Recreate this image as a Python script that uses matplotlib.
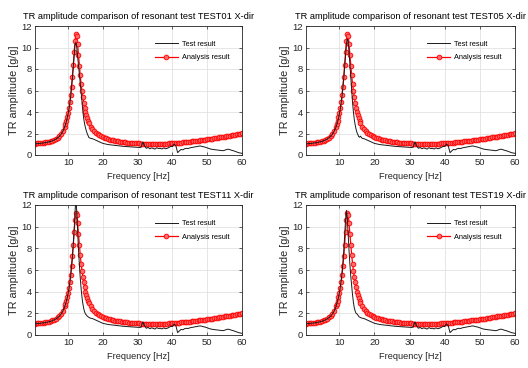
import numpy as np
import matplotlib
matplotlib.use("Agg")
import matplotlib.pyplot as plt

plt.rcParams['font.family'] = ['Liberation Sans', 'DejaVu Sans']

# frequency grid [Hz] (denser around the resonance)
freq_low = np.arange(0.5, 9.01, 0.5)
freq_peak = np.arange(9.25, 16.01, 0.25)
freq_high = np.arange(16.5, 60.01, 0.5)

# analysis result (same model for all tests)
ana_low = [1.06, 1.07, 1.08, 1.10, 1.12, 1.14, 1.17, 1.20, 1.24, 1.28, 1.34, 1.42,
           1.51, 1.62, 1.77, 1.97, 2.25, 2.65]
ana_peak = [2.90, 3.18, 3.50, 3.88, 4.35, 4.90, 5.55, 6.35, 7.25, 8.35, 9.55, 10.6,
            11.3, 11.1, 10.3, 9.3, 8.3, 7.4, 6.6, 5.95, 5.35, 4.85, 4.4, 4.0,
            3.68, 3.40, 3.17, 2.97]
ana_high = [2.65, 2.42, 2.23, 2.07, 1.94, 1.84, 1.75, 1.67,
            1.60, 1.54, 1.49, 1.44, 1.40, 1.36, 1.33, 1.30, 1.27, 1.25,
            1.22, 1.20, 1.18, 1.16, 1.14, 1.12, 1.11, 1.10, 1.09, 1.08,
            1.07, 1.06, 1.05, 1.04, 1.03, 1.02, 1.02, 1.01, 1.01, 1.00,
            1.01, 1.01, 1.02, 1.03, 1.04, 1.05, 1.06, 1.07, 1.08, 1.10,
            1.11, 1.12, 1.13, 1.15, 1.16, 1.18, 1.19, 1.21, 1.23, 1.24,
            1.26, 1.28, 1.30, 1.32, 1.34, 1.36, 1.38, 1.40, 1.43, 1.45,
            1.47, 1.50, 1.52, 1.55, 1.57, 1.60, 1.63, 1.65, 1.68, 1.71,
            1.74, 1.77, 1.80, 1.83, 1.86, 1.89, 1.92, 1.95, 1.98, 2.01]

# test result, low / high frequency parts (nearly identical between tests)
test_low = [1.04, 1.05, 1.06, 1.08, 1.10, 1.12, 1.15, 1.18, 1.22, 1.26, 1.32, 1.39,
            1.48, 1.59, 1.73, 1.93, 2.20, 2.58]
test_high = [1.55, 1.52, 1.45, 1.38, 1.30, 1.22, 1.15, 1.08,
             1.04, 1.00, 0.97, 0.95, 0.92, 0.90, 0.88, 0.86, 0.84, 0.82,
             0.81, 0.80, 0.79, 0.78, 0.78, 0.77, 0.76, 0.75, 0.74, 0.73,
             0.70, 0.72, 1.22, 0.85, 0.62, 0.70, 0.58, 0.66, 0.60, 0.55,
             0.68, 0.60, 0.62, 0.56, 0.66, 0.58, 0.62, 0.70, 0.80, 0.78,
             1.02, 0.85, 0.22, 0.38, 0.52, 0.48, 0.58, 0.62, 0.60, 0.66,
             0.70, 0.72, 0.76, 0.78, 0.82, 0.84, 0.80, 0.76, 0.72, 0.66,
             0.60, 0.55, 0.52, 0.50, 0.48, 0.46, 0.44, 0.42, 0.40, 0.44,
             0.50, 0.54, 0.50, 0.44, 0.40, 0.34, 0.28, 0.22, 0.18, 0.15]

# test result around the resonance, per test
test01_peak = [2.82, 3.10, 3.42, 3.80, 4.26, 4.80, 5.45, 6.25, 7.15, 8.20, 9.35, 10.2,
               10.5, 10.0, 9.2, 8.3, 7.5, 6.7, 5.8, 4.9, 4.1, 3.4, 2.9, 2.55,
               2.25, 2.0, 1.8, 1.62]
test05_peak = [2.82, 3.10, 3.42, 3.80, 4.26, 4.80, 5.45, 6.25, 7.15, 8.20, 9.3, 10.3,
               10.8, 10.6, 9.6, 8.4, 7.2, 6.0, 4.9, 4.0, 3.3, 2.8, 2.4, 2.1,
               1.9, 1.72, 1.65, 1.75]
test11_peak = [2.82, 3.10, 3.42, 3.80, 4.26, 4.80, 5.45, 6.25, 7.15, 8.30, 9.7, 11.3,
               12.6, 11.4, 9.6, 7.9, 6.5, 5.3, 4.3, 3.5, 2.9, 2.45, 2.15, 1.95,
               1.85, 1.75, 1.68, 1.62]
test19_peak = [2.86, 3.15, 3.48, 3.88, 4.38, 4.98, 5.70, 6.60, 7.70, 9.1, 10.6, 11.5,
               10.8, 9.3, 7.8, 6.5, 5.4, 4.5, 3.7, 3.0, 2.5, 2.2, 2.0, 1.95,
               1.85, 1.72, 1.65, 1.62]

test_names = ["TEST01", "TEST05", "TEST11", "TEST19"]
test_peaks = [test01_peak, test05_peak, test11_peak, test19_peak]

freq = np.concatenate([freq_low, freq_peak, freq_high])
analysis = np.concatenate([ana_low, ana_peak, ana_high])

W, H = 528, 368
fig = plt.figure(figsize=(W / 100, H / 100), dpi=100)

# axes boxes in pixels: left, right, top, bottom
boxes = [(35, 242, 26, 155), (306, 515, 26, 155),
         (35, 242, 205, 335), (306, 515, 205, 335)]

for name, peak, (l, r, t, b) in zip(test_names, test_peaks, boxes):
    ax = fig.add_axes([l / W, 1 - b / H, (r - l) / W, (b - t) / H])
    test = np.concatenate([test_low, peak, test_high])

    ax.plot(freq, test, color="#1a1a1a", lw=0.7, label="Test result", zorder=3)
    ax.plot(freq, analysis, color="red", lw=0.9, marker="o", ms=3.4, mew=0.6,
            mfc="#ff6a6a", mec="red", label="Analysis result", zorder=2)

    ax.set_xlim(0.5, 60)
    ax.set_ylim(0, 12)
    ax.set_xticks([10, 20, 30, 40, 50, 60])
    ax.set_yticks([0, 2, 4, 6, 8, 10, 12])
    ax.grid(True, color="#dcdcdc", lw=0.5)
    ax.set_axisbelow(True)
    ax.tick_params(direction="in", length=2.5, width=0.5, top=True, right=True,
                   labelsize=6.8, colors="#262626", pad=2)
    for s in ax.spines.values():
        s.set_linewidth(0.6)
        s.set_color("#262626")

    ax.set_title(f"TR amplitude comparison of resonant test {name} X-dir",
                 fontsize=6.7, pad=5)
    ax.set_xlabel("Frequency [Hz]", fontsize=6.7, color="#262626", labelpad=4)
    ax.set_ylabel("TR amplitude [g/g]", fontsize=7.8, color="#262626", labelpad=2)

    ax.legend(loc="upper left", bbox_to_anchor=(0.58, 0.885), frameon=False,
              fontsize=5.3, handlelength=3.1, handletextpad=0.6,
              labelspacing=0.85, borderpad=0, borderaxespad=0, numpoints=1)

fig.savefig("out.png", dpi=100)
